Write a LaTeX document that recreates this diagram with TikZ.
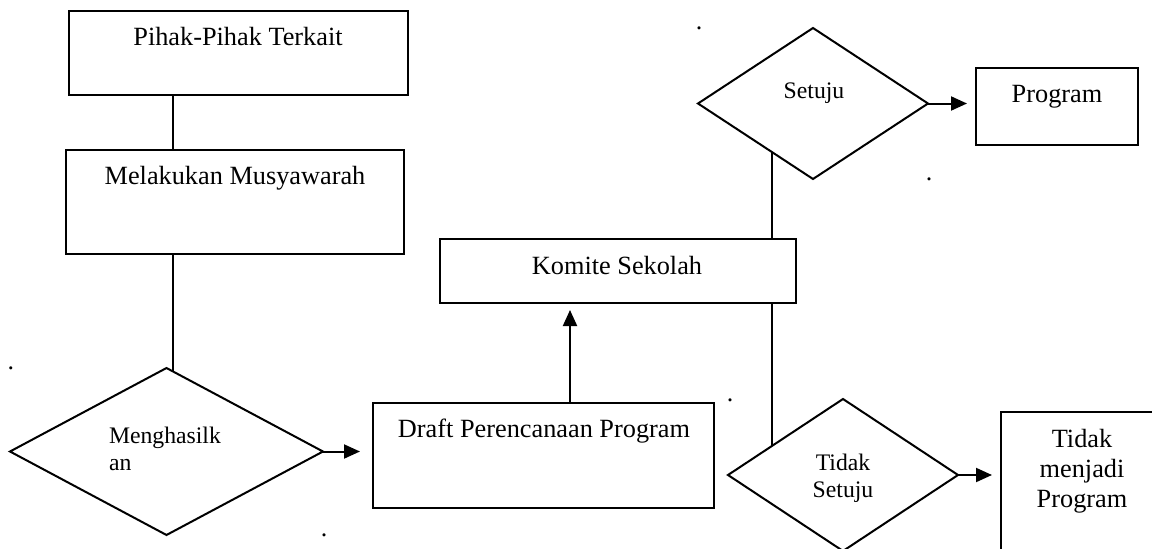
\documentclass[tikz,border=0pt]{standalone}
\usepackage{fontspec}
\setmainfont{Liberation Serif}
\usetikzlibrary{shapes.geometric,arrows.meta}
\begin{document}
\begin{tikzpicture}[x=1pt,y=-1pt,line width=2pt,
  box/.style={draw,rectangle,inner sep=0,outer sep=0},
  dia/.style={draw,diamond,inner sep=0,outer sep=0},
  big/.style={inner sep=0,font=\fontsize{26.3}{30}\selectfont},
  small/.style={inner sep=0,font=\fontsize{23.7}{27}\selectfont},
  con/.style={line width=2pt},
  arr/.style={con,-{Triangle[length=16pt,width=14pt]}},
  speck/.style={inner sep=0,font=\fontsize{26}{30}\selectfont}]
\useasboundingbox (0,0) rectangle (1152,549);
\clip (0,0) rectangle (1152,549);

% boxes
\node[box,minimum width=339pt,minimum height=84pt] (pihak) at (238.5,53) {};
\node[box,minimum width=338pt,minimum height=104pt] (musy) at (235,202) {};
\node[box,minimum width=356pt,minimum height=64pt] (komite) at (618,271) {};
\node[box,minimum width=341pt,minimum height=105pt] (draft) at (543.5,455.5) {};
\node[box,minimum width=162pt,minimum height=77pt] (program) at (1057,106.5) {};
\node[box,minimum width=164pt,minimum height=158pt] (tmp) at (1083,491) {};

% diamonds
\node[dia,minimum width=313pt,minimum height=167pt] (hasil) at (166.5,451.5) {};
\node[dia,minimum width=230pt,minimum height=151pt] (setuju) at (813,103.5) {};
\node[dia,minimum width=230pt,minimum height=152pt] (tidak) at (843,475) {};

% texts (base anchor of multi-line nodes = last line)
\node[big,anchor=base] (tpihak) at (238,45) {Pihak-Pihak Terkait};
\node[big,anchor=base] (tmusy) at (235,184) {Melakukan Musyawarah};
\node[big,anchor=base] (tkomite) at (617,274) {Komite Sekolah};
\node[big,anchor=base] (tdraft) at (544,437) {Draft Perencanaan Program};
\node[big,anchor=base] (tprogram) at (1057,102) {Program};
\node[big,anchor=base,align=center] (ttmp) at (1082,507) {Tidak\\menjadi\\Program};
\node[small,anchor=base] (tsetuju) at (814,98) {Setuju};
\node[small,anchor=base west,align=left] (thasil) at (108,470) {Menghasilk\\an};
\node[small,anchor=base,align=center] (ttidak) at (843,497) {Tidak\\Setuju};

% stray dots
\node[speck] (d1) at (11,368) {.};
\node[speck] (d2) at (699,28) {.};
\node[speck] (d3) at (929,179) {.};
\node[speck] (d4) at (730,400) {.};
\node[speck] (d5) at (324,535) {.};

% connector columns
\coordinate (c1) at (173,0);
\coordinate (c2) at (772,0);
\coordinate (c3) at (570,0);

\draw[con] (pihak.south -| c1) -- (musy.north -| c1);
\draw[con] (musy.south -| c1) -- (hasil.85.4 -| c1);
\draw[arr,shorten >=13pt] (hasil.east) -- (hasil.east -| draft.west);
\draw[arr,shorten >=7pt] (draft.north -| c3) -- (komite.south -| c3);
\draw[con] (komite.north -| c2) -- (setuju.229.2 -| c2);
\draw[con] (komite.south -| c2) -- (tidak.157.5 -| c2);
\draw[arr,shorten >=9pt] (setuju.east) -- (setuju.east -| program.west);
\draw[arr,shorten >=9pt] (tidak.east) -- (tidak.east -| tmp.west);
\end{tikzpicture}
\end{document}
